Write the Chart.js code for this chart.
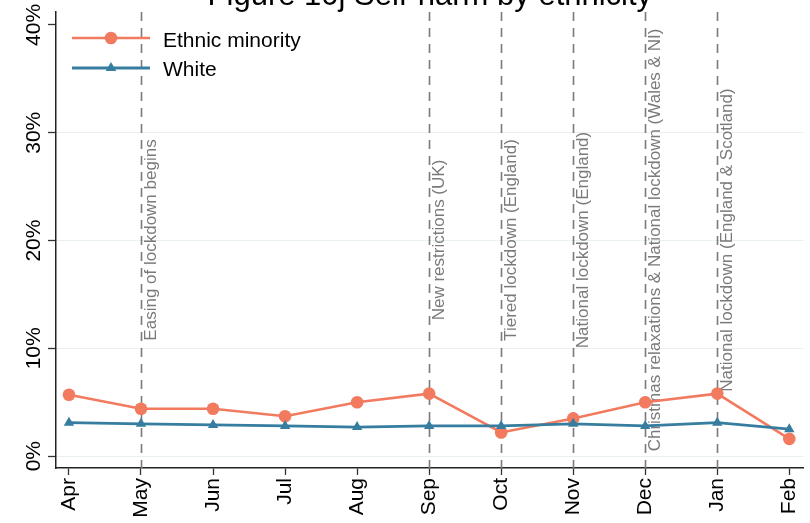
<!DOCTYPE html>
<html>
<head>
<meta charset="utf-8">
<title>Self-harm by ethnicity</title>
<script src="https://cdn.jsdelivr.net/npm/chart.js@4.4.1/dist/chart.umd.min.js"></script>
<style>
  html, body { margin: 0; padding: 0; background: #fff; }
  #wrap { width: 810px; height: 523px; }
</style>
</head>
<body>
<div id="wrap"><canvas id="chart" width="810" height="523"></canvas></div>
<script>
"use strict";

// Data
const chartTitle = "Figure 10j Self-harm by ethnicity";
const months = ["Apr", "May", "Jun", "Jul", "Aug", "Sep", "Oct", "Nov", "Dec", "Jan", "Feb"];
const ethnicMinority = [5.7, 4.4, 4.4, 3.7, 5.0, 5.8, 2.2, 3.5, 5.0, 5.8, 1.6];
const white = [3.1, 3.0, 2.9, 2.8, 2.7, 2.8, 2.8, 3.0, 2.8, 3.1, 2.5];
const yTicks = [0, 10, 20, 30, 40];
const eventMonths = ["May", "Sep", "Oct", "Nov", "Dec", "Jan"];
const eventLabels = [
    "Easing of lockdown begins",
    "New restrictions (UK)",
    "Tiered lockdown (England)",
    "National lockdown (England)",
    "Christmas relaxations & National lockdown (Wales & NI)",
    "National lockdown (England & Scotland)"
];

const FONT = "'Liberation Sans', Arial, sans-serif";
const ORANGE = "#f27a5f";
const BLUE = "#367d9f";

const toPoints = (arr) => arr.map((v, i) => ({ x: i, y: v }));

// Title (cut off at the top like the original)
const titlePlugin = {
    id: "cutTitle",
    afterDraw(chart) {
        const { ctx, chartArea } = chart;
        ctx.save();
        ctx.font = "31px " + FONT;
        ctx.fillStyle = "#000";
        ctx.textAlign = "center";
        ctx.textBaseline = "alphabetic";
        ctx.fillText(chartTitle, (chartArea.left + chartArea.right) / 2, 5);
        ctx.restore();
    }
};

// Dashed event lines + rotated labels
const eventPlugin = {
    id: "events",
    beforeDatasetsDraw(chart) {
        const { ctx, chartArea } = chart;
        const xs = chart.scales.x;
        const midY = (chartArea.top + chartArea.bottom) / 2;
        ctx.save();
        eventMonths.forEach((m, i) => {
            const px = Math.round(xs.getPixelForValue(months.indexOf(m))) + 0.5;
            ctx.strokeStyle = "#7a7a7a";
            ctx.lineWidth = 1.6;
            ctx.setLineDash([9, 7]);
            ctx.beginPath();
            ctx.moveTo(px, chartArea.top);
            ctx.lineTo(px, chartArea.bottom);
            ctx.stroke();

            ctx.save();
            ctx.translate(px + 14, midY);
            ctx.rotate(-Math.PI / 2);
            ctx.font = "17px " + FONT;
            ctx.fillStyle = "#7a7a7a";
            ctx.textAlign = "center";
            ctx.textBaseline = "alphabetic";
            ctx.fillText(eventLabels[i], 0, 0);
            ctx.restore();
        });
        ctx.restore();
    }
};

// Y tick labels, rotated
const yLabelPlugin = {
    id: "yLabels",
    afterDraw(chart) {
        const { ctx } = chart;
        const ys = chart.scales.y;
        ctx.save();
        ctx.font = "21px " + FONT;
        ctx.fillStyle = "#000";
        ctx.textAlign = "center";
        ctx.textBaseline = "alphabetic";
        ys.ticks.forEach(t => {
            const py = ys.getPixelForValue(t.value);
            ctx.save();
            ctx.translate(40, py);
            ctx.rotate(-Math.PI / 2);
            ctx.fillText(t.value + "%", 0, 0);
            ctx.restore();
        });
        ctx.restore();
    }
};

// Legend with line + marker
const legendPlugin = {
    id: "lineLegend",
    afterDraw(chart) {
        const { ctx } = chart;
        const rows = [
            { y: 38, base: 46.5 },
            { y: 68, base: 76 }
        ];
        ctx.save();
        chart.data.datasets.forEach((ds, i) => {
            const r = rows[i];
            ctx.strokeStyle = ds.borderColor;
            ctx.lineWidth = ds.borderWidth;
            ctx.setLineDash([]);
            ctx.beginPath();
            ctx.moveTo(72, r.y);
            ctx.lineTo(150, r.y);
            ctx.stroke();
            ctx.fillStyle = ds.borderColor;
            ctx.beginPath();
            if (ds.pointStyle === "triangle") {
                const s = ds.pointRadius;
                ctx.moveTo(111, r.y - s);
                ctx.lineTo(111 + s * 0.87, r.y + s * 0.5);
                ctx.lineTo(111 - s * 0.87, r.y + s * 0.5);
                ctx.closePath();
            } else {
                ctx.arc(111, r.y, ds.pointRadius, 0, Math.PI * 2);
            }
            ctx.fill();
            ctx.fillStyle = "#000";
            ctx.font = "21px " + FONT;
            ctx.textAlign = "left";
            ctx.textBaseline = "alphabetic";
            ctx.fillText(ds.label, 163, r.base);
        });
        ctx.restore();
    }
};

new Chart(document.getElementById("chart").getContext("2d"), {
    type: "line",
    data: {
        datasets: [
            {
                label: "Ethnic minority",
                data: toPoints(ethnicMinority),
                borderColor: ORANGE,
                backgroundColor: ORANGE,
                borderWidth: 2.6,
                pointStyle: "circle",
                pointRadius: 6.3,
                pointBorderWidth: 0,
                order: 2
            },
            {
                label: "White",
                data: toPoints(white),
                borderColor: BLUE,
                backgroundColor: BLUE,
                borderWidth: 2.8,
                pointStyle: "triangle",
                pointRadius: 6,
                pointBorderWidth: 0,
                order: 1
            }
        ]
    },
    options: {
        responsive: false,
        devicePixelRatio: 1,
        animation: false,
        layout: { padding: { top: 12, right: 4, left: 0, bottom: 0 } },
        elements: { line: { tension: 0 } },
        plugins: {
            legend: { display: false },
            tooltip: { enabled: false }
        },
        scales: {
            x: {
                type: "linear",
                min: -0.18,
                max: 10.2,
                afterBuildTicks: s => { s.ticks = months.map((_, i) => ({ value: i })); },
                afterFit: s => { s.height = 55; s.paddingLeft = 0; s.paddingRight = 0; },
                ticks: {
                    callback: v => months[v],
                    font: { family: FONT, size: 21 },
                    color: "#000",
                    minRotation: 90,
                    maxRotation: 90,
                    autoSkip: false,
                    padding: 3
                },
                grid: {
                    drawOnChartArea: false,
                    drawTicks: true,
                    tickLength: 7,
                    tickColor: "#333",
                    tickWidth: 1.3
                },
                border: { color: "#222", width: 1.5 }
            },
            y: {
                type: "linear",
                min: -1.1,
                max: 41.2,
                afterBuildTicks: s => { s.ticks = yTicks.map(v => ({ value: v })); },
                afterFit: s => { s.width = 56; s.paddingTop = 0; s.paddingBottom = 0; },
                ticks: {
                    callback: v => v + "%",
                    color: "rgba(0,0,0,0)",
                    font: { family: FONT, size: 21 }
                },
                grid: {
                    color: c => (c.tick && c.tick.value === 40) ? "rgba(0,0,0,0)" : "#e8f0f2",
                    lineWidth: 1,
                    tickLength: 8,
                    tickColor: "#333",
                    tickWidth: 1.3
                },
                border: { color: "#222", width: 1.5 }
            }
        }
    },
    plugins: [eventPlugin, titlePlugin, yLabelPlugin, legendPlugin]
});
</script>
</body>
</html>
